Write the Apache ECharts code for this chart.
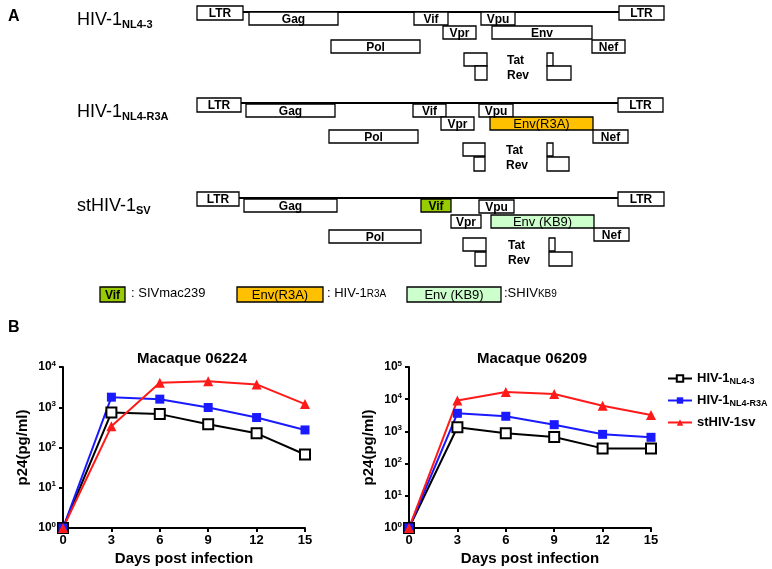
<!DOCTYPE html>
<html>
<head>
    <meta charset="utf-8">
    <title>HIV-1 constructs and p24</title>
    <script src="https://cdn.jsdelivr.net/npm/echarts@6/dist/echarts.min.js"></script>
    <style>
        body { margin: 0; background: #fff; }
    </style>
</head>
<body>
    <div id="main" style="width: 772px;height:569px;"></div>

    <script type="text/javascript">
        // ---- panel B: p24 values (pg/ml) ----
        var days = [0, 3, 6, 9, 12, 15];
        var xTicks = [0, 3, 6, 9, 12, 15];
        var seriesNames = ['HIV-1NL4-3', 'HIV-1NL4-R3A', 'stHIV-1sv'];
        var mac06224_nl43 = [1, 740, 675, 380, 225, 67];
        var mac06224_r3a = [1, 1780, 1590, 985, 555, 273];
        var mac06224_sv = [1, 335, 4060, 4400, 3700, 1200];
        var mac06209_nl43 = [1, 1340, 870, 670, 297, 297];
        var mac06209_r3a = [1, 3650, 2950, 1620, 810, 655];
        var mac06209_sv = [1, 9180, 16700, 14500, 6300, 3240];

        // ---- panel A: genome maps [gene, start, end, frame, kind] ----
        var mapNL43 = [
            ['LTR', 197, 243, 0, 'w'], ['Gag', 249, 338, 1, 'w'], ['Vif', 414, 448, 1, 'w'],
            ['Vpu', 481, 515, 1, 'w'], ['Vpr', 443, 476, 2, 'w'], ['Env', 492, 592, 2, 'w'],
            ['Pol', 331, 420, 3, 'w'], ['Nef', 592, 625, 3, 'w'], ['LTR', 619, 664, 0, 'w'],
            ['', 464, 487, 4, 'w'], ['', 475, 487, 5, 'w'], ['', 547, 553, 4, 'w'], ['', 547, 571, 5, 'w']
        ];
        var mapR3A = [
            ['LTR', 197, 241, 0, 'w'], ['Gag', 246, 335, 1, 'w'], ['Vif', 413, 446, 1, 'w'],
            ['Vpu', 479, 513, 1, 'w'], ['Vpr', 441, 474, 2, 'w'], ['Env(R3A)', 490, 593, 2, 'r3a'],
            ['Pol', 329, 418, 3, 'w'], ['Nef', 593, 628, 3, 'w'], ['LTR', 618, 663, 0, 'w'],
            ['', 463, 485, 4, 'w'], ['', 474, 485, 5, 'w'], ['', 547, 553, 4, 'w'], ['', 547, 569, 5, 'w']
        ];
        var mapSV = [
            ['LTR', 197, 239, 0, 'w'], ['Gag', 244, 337, 1, 'w'], ['Vif', 421, 451, 1, 'siv'],
            ['Vpu', 479, 514, 6, 'w'], ['Vpr', 451, 481, 2, 'w'], ['Env (KB9)', 491, 594, 2, 'kb9'],
            ['Pol', 329, 421, 3, 'w'], ['Nef', 594, 629, 7, 'w'], ['LTR', 618, 664, 0, 'w'],
            ['', 463, 486, 4, 'w'], ['', 475, 486, 5, 'w'], ['', 549, 555, 4, 'w'], ['', 549, 572, 5, 'w']
        ];
        var genomeMaps = [mapNL43, mapR3A, mapSV];
        var constructNames = ['HIV-1', 'HIV-1', 'stHIV-1'];
        var constructSubs = ['NL4-3', 'NL4-R3A', 'SV'];
        var keyGenes = [['Vif', 'siv'], ['Env(R3A)', 'r3a'], ['Env (KB9)', 'kb9']];
        var keySources = [['SIVmac239', ''], ['HIV-1', 'R3A'], ['SHIV', 'KB9']];

        // ---- layout ----
        var F = "'Liberation Sans', Arial, sans-serif";
        var rowTop = [6, 98, 192];
        var rowBackbone = [12, 103, 198];
        var frameY = [
            [0, 6, 20, 34, 47, 60, 6, 34],
            [0, 6, 19, 32, 45, 59, 6, 32],
            [0, 7, 23, 38, 46, 60, 8, 36]
        ];
        var fills = { w: '#ffffff', r3a: '#ffc000', kb9: '#ccffcc', siv: '#99cc00' };
        var keyX = [[100, 125], [237, 323], [407, 501]];
        var keyTextX = [131, 327, 504];

        var boxes = [];
        genomeMaps.forEach(function (m, r) {
            m.forEach(function (g) {
                var y0 = rowTop[r] + frameY[r][g[3]];
                var h = g[3] === 0 ? 14 : (g[3] === 5 ? 14 : 13);
                boxes.push({ value: [g[1], g[2], y0, y0 + h], label: g[0], fill: fills[g[4]] });
            });
        });
        keyGenes.forEach(function (k, i) {
            boxes.push({ value: [keyX[i][0], keyX[i][1], 287, 302], label: k[0], fill: fills[k[1]] });
        });
        var backbones = genomeMaps.map(function (m, r) {
            return [m[0][2], m[8][1], rowBackbone[r]];
        });

        var labelFont = function (t) {
            if (t.indexOf('(') >= 0) return 'normal 13px ' + F;
            return 'bold 12px ' + F;
        };

        var renderBox = function (params, api) {
            var b = boxes[params.dataIndex];
            var p0 = api.coord([api.value(0), api.value(2)]);
            var p1 = api.coord([api.value(1), api.value(3)]);
            return {
                type: 'rect',
                shape: { x: p0[0], y: p0[1], width: p1[0] - p0[0], height: p1[1] - p0[1] },
                style: { fill: b.fill, stroke: '#000', lineWidth: 1.3 },
                textContent: { style: { text: b.label, font: labelFont(b.label), fill: '#000' } },
                textConfig: { position: 'inside', offset: [0, 1] }
            };
        };
        var renderBackbone = function (params, api) {
            var p0 = api.coord([api.value(0), api.value(2)]);
            var p1 = api.coord([api.value(1), api.value(2)]);
            return {
                type: 'line',
                shape: { x1: p0[0], y1: p0[1], x2: p1[0], y2: p1[1] },
                style: { stroke: '#000', lineWidth: 2.2 }
            };
        };

        var sup = function (v) { return '{b|10}{s|' + Math.round(Math.log10(v)) + '}'; };
        var pairs = function (ys) { return days.map(function (d, i) { return [d, ys[i]]; }); };

        var graphics = [
            { type: 'text', left: 8, top: 9, style: { text: 'A', font: 'bold 16px ' + F, fill: '#000' } },
            { type: 'text', left: 8, top: 320, style: { text: 'B', font: 'bold 16px ' + F, fill: '#000' } }
        ];
        constructNames.forEach(function (n, r) {
            graphics.push({
                type: 'text', left: 77, top: rowTop[r] + 5,
                style: {
                    text: '{m|' + n + '}{s|' + constructSubs[r] + '}',
                    rich: {
                        m: { font: 'normal 18px ' + F, fill: '#000' },
                        s: { font: 'bold 11px ' + F, fill: '#000', padding: [9, 0, 0, 0] }
                    }
                }
            });
        });
        graphics.push({ type: 'text', left: 507, top: rowTop[0] + 47, style: { text: 'Tat\nRev', font: 'bold 12px ' + F, fill: '#000', lineHeight: 15 } });
        graphics.push({ type: 'text', left: 506, top: rowTop[1] + 45, style: { text: 'Tat\nRev', font: 'bold 12px ' + F, fill: '#000', lineHeight: 15 } });
        graphics.push({ type: 'text', left: 508, top: rowTop[2] + 46, style: { text: 'Tat\nRev', font: 'bold 12px ' + F, fill: '#000', lineHeight: 15 } });
        keySources.forEach(function (k, i) {
            graphics.push({
                type: 'text', left: keyTextX[i], top: 287,
                style: {
                    text: '{m|' + (i === 2 ? ':' : ': ') + k[0] + '}{s|' + k[1] + '}',
                    rich: {
                        m: { font: 'normal 13px ' + F, fill: '#000' },
                        s: { font: 'normal 10px ' + F, fill: '#000', padding: [2, 0, 0, 0] }
                    }
                }
            });
        });

        var xAxisStyle = function (gi) {
            return {
                gridIndex: gi, type: 'value', min: 0, max: 15, interval: 3,
                axisLine: { lineStyle: { color: '#000', width: 2 } },
                axisTick: { length: 4, lineStyle: { color: '#000', width: 2 } },
                axisLabel: { color: '#000', fontWeight: 'bold', fontSize: 13, fontFamily: F, margin: 6 },
                splitLine: { show: false },
                name: 'Days post infection', nameLocation: 'middle', nameGap: 23,
                nameTextStyle: { color: '#000', fontWeight: 'bold', fontSize: 15, fontFamily: F }
            };
        };
        var yAxisStyle = function (gi, max) {
            return {
                gridIndex: gi, type: 'log', logBase: 10, min: 1, max: max,
                axisLine: { show: true, lineStyle: { color: '#000', width: 2 } },
                axisTick: { show: true, length: 4, lineStyle: { color: '#000', width: 2 } },
                minorTick: { show: false },
                axisLabel: {
                    formatter: sup, margin: 7,
                    rich: {
                        b: { color: '#000', fontWeight: 'bold', fontSize: 12, fontFamily: F },
                        s: { color: '#000', fontWeight: 'bold', fontSize: 8, fontFamily: F, padding: [0, 0, 7, 0] }
                    }
                },
                splitLine: { show: false },
                name: 'p24(pg/ml)', nameLocation: 'middle', nameGap: 33,
                nameTextStyle: { color: '#000', fontWeight: 'bold', fontSize: 15, fontFamily: F }
            };
        };

        var lineSeries = function (name, xi, data, kind) {
            var s = {
                name: name, type: 'line', xAxisIndex: xi, yAxisIndex: xi, data: pairs(data),
                clip: false, z: 3
            };
            if (kind === 0) {
                s.symbol = 'rect'; s.symbolSize = 10;
                s.lineStyle = { color: '#000', width: 2 };
                s.itemStyle = { color: '#fff', borderColor: '#000', borderWidth: 2 };
            } else if (kind === 1) {
                s.symbol = 'rect'; s.symbolSize = 9;
                s.lineStyle = { color: '#1a1aff', width: 2 };
                s.itemStyle = { color: '#1a1aff' };
            } else {
                s.symbol = 'triangle'; s.symbolSize = 10;
                s.lineStyle = { color: '#ff1a1a', width: 2 };
                s.itemStyle = { color: '#ff1a1a' };
            }
            return s;
        };

        var drawChart = function () {
            var myChart = echarts.init(document.getElementById('main'));
            var option = {
                animation: false,
                backgroundColor: '#fff',
                title: [
                    { text: 'Macaque 06224', left: 187, top: 346, textAlign: 'center',
                      textStyle: { color: '#000', fontWeight: 'bold', fontSize: 15, fontFamily: F } },
                    { text: 'Macaque 06209', left: 527, top: 346, textAlign: 'center',
                      textStyle: { color: '#000', fontWeight: 'bold', fontSize: 15, fontFamily: F } }
                ],
                legend: {
                    orient: 'vertical', left: 662, top: 367, itemWidth: 24, itemHeight: 8, itemGap: 8,
                    data: seriesNames,
                    formatter: function (n) {
                        if (n === 'HIV-1NL4-3') return '{m|HIV-1}{s|NL4-3}';
                        if (n === 'HIV-1NL4-R3A') return '{m|HIV-1}{s|NL4-R3A}';
                        return '{m|stHIV-1sv}';
                    },
                    textStyle: {
                        rich: {
                            m: { color: '#000', fontWeight: 'bold', fontSize: 13, fontFamily: F },
                            s: { color: '#000', fontWeight: 'bold', fontSize: 9, fontFamily: F, padding: [6, 0, 0, 0] }
                        }
                    }
                },
                grid: [
                    { left: 63, top: 367, width: 242, height: 161 },
                    { left: 409, top: 367, width: 242, height: 161 },
                    { left: 0, top: 0, width: 772, height: 569 }
                ],
                xAxis: [
                    xAxisStyle(0), xAxisStyle(1),
                    { gridIndex: 2, type: 'value', min: 0, max: 772, show: false }
                ],
                yAxis: [
                    yAxisStyle(0, 10000), yAxisStyle(1, 100000),
                    { gridIndex: 2, type: 'value', min: 0, max: 569, inverse: true, show: false }
                ],
                graphic: graphics,
                series: [
                    lineSeries(seriesNames[0], 0, mac06224_nl43, 0),
                    lineSeries(seriesNames[1], 0, mac06224_r3a, 1),
                    lineSeries(seriesNames[2], 0, mac06224_sv, 2),
                    lineSeries(seriesNames[0], 1, mac06209_nl43, 0),
                    lineSeries(seriesNames[1], 1, mac06209_r3a, 1),
                    lineSeries(seriesNames[2], 1, mac06209_sv, 2),
                    {
                        type: 'custom', xAxisIndex: 2, yAxisIndex: 2, clip: false, silent: true,
                        renderItem: renderBackbone, data: backbones, z: 1
                    },
                    {
                        type: 'custom', xAxisIndex: 2, yAxisIndex: 2, clip: false, silent: true,
                        renderItem: renderBox, data: boxes, z: 2
                    }
                ]
            };
            myChart.setOption(option);
        };

        drawChart();
    </script>
</body>
</html>
